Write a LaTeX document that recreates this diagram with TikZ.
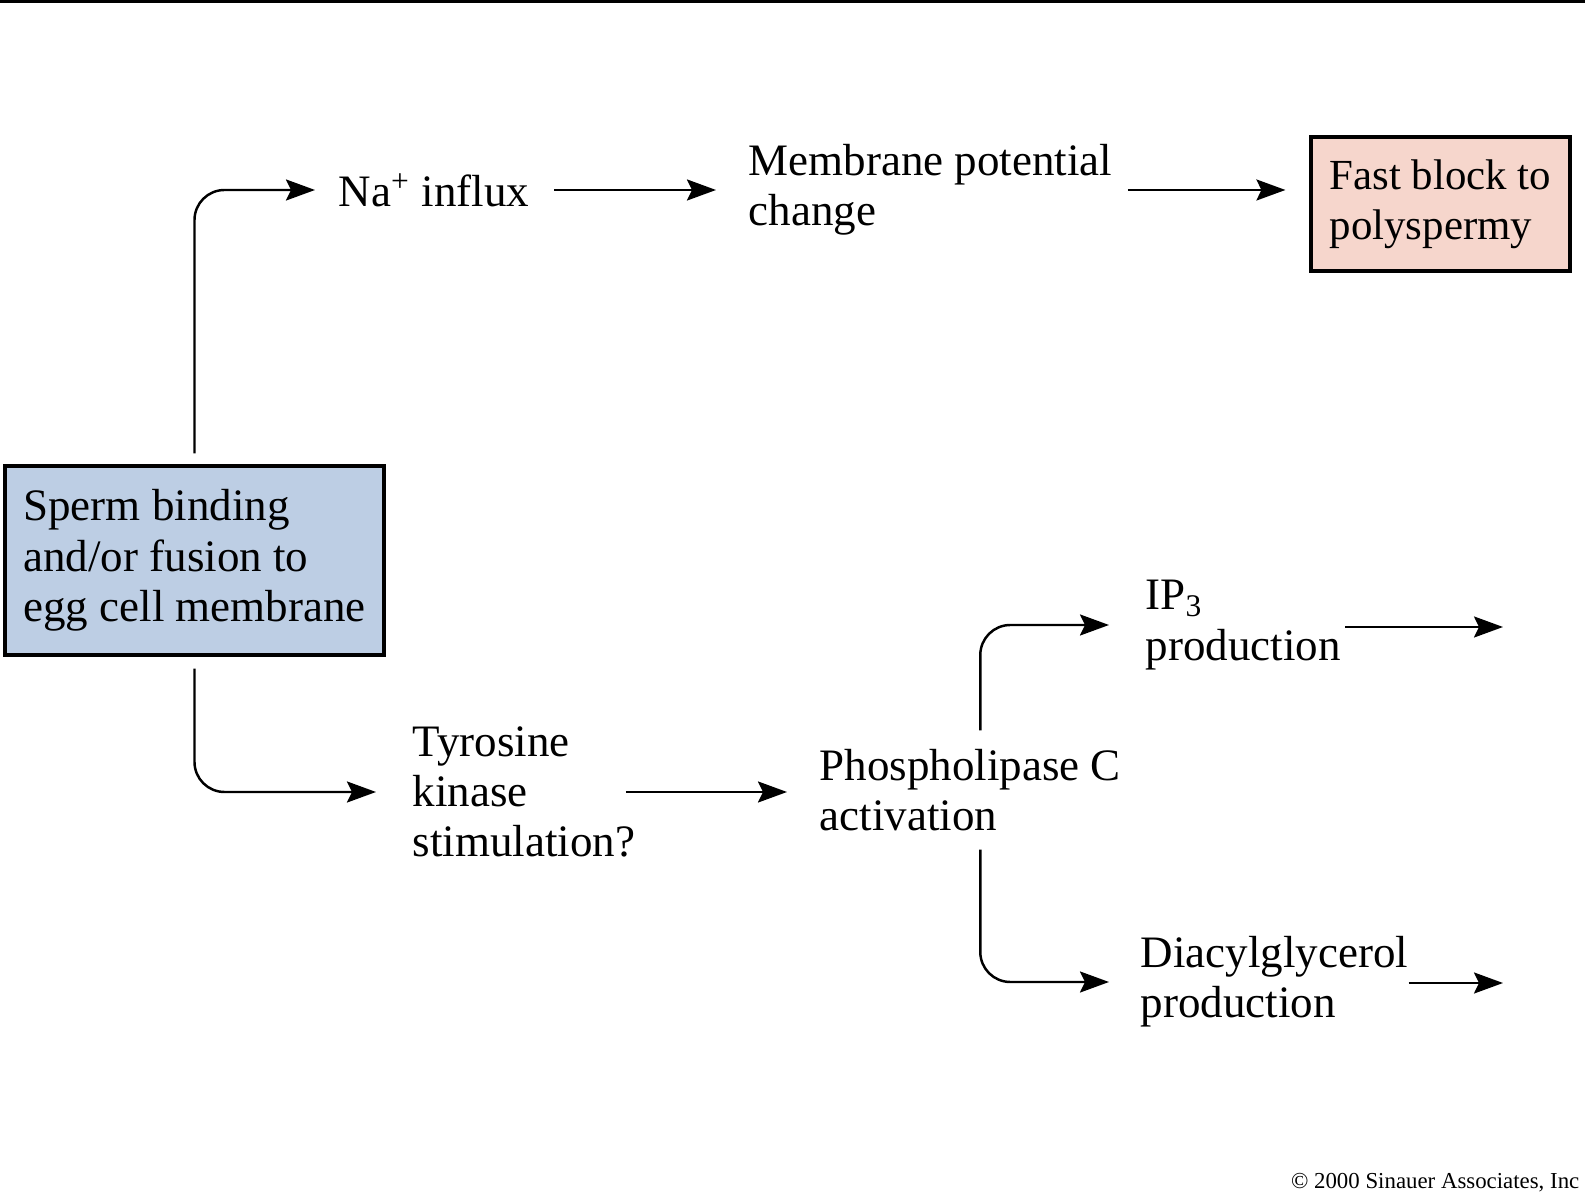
\documentclass[tikz,border=0pt]{standalone}
\usepackage{fontspec}
\setmainfont{Liberation Serif}
\usepackage{tikz}
\usetikzlibrary{calc, positioning}
\usetikzlibrary{arrows.meta}
\tikzset{>={Stealth[length=2.9mm,width=2.1mm,inset=0.5mm]}}
\usepackage{xcolor}
\definecolor{spermblue}{HTML}{BDCEE4}
\definecolor{blockpink}{HTML}{F6D6CC}

\begin{document}
\begin{tikzpicture}[
		stage/.style={anchor=west, align=left, inner sep=0pt, font=\fontsize{12.8}{14.3}\selectfont},
		box/.style={draw, line width=0.9pt, align=left, font=\fontsize{12.8}{14.3}\selectfont},
		flow/.style={->, line width=0.7pt, rounded corners=0.3cm}
	]
				\useasboundingbox (0,0) rectangle (15.85,-11.99);
				\fill (0,0) rectangle (15.85,-0.03);
				% boxes
				\node[box, fill=spermblue, minimum width=3.79cm, minimum height=1.89cm] (sperm) at (1.945,-5.605) {Sperm binding\\and/or fusion to\\egg cell membrane};
				\node[box, fill=blockpink, minimum width=2.59cm, minimum height=1.34cm, font=\fontsize{12.2}{14.3}\selectfont] (fast) at (14.405,-2.04) {Fast block to\\polyspermy};
				% stages
				\node[stage] (na) at (3.38,-1.90) {Na\textsuperscript{+} influx};
				\node[stage] (memb) at (7.48,-1.90) {Membrane potential\\change};
				\node[stage] (tyr) at (4.12,-7.92) {Tyrosine\\kinase\\stimulation?};
				\node[stage] (plc) at (8.19,-7.90) {Phospholipase C\\activation};
				\node[stage] (ip3) at (11.45,-6.25) {IP\textsubscript{3}\\production};
				\node[stage] (dag) at (11.40,-9.82) {Diacylglycerol\\production};
				\coordinate (ip3out) at (15.03,-6.27);
				\coordinate (dagout) at (15.03,-9.83);
				% arrows
				\draw[flow] ([yshift=1.1mm]sperm.north) |- ([xshift=-2.3mm]na.west);
				\draw[flow, shorten <=2.4mm, shorten >=3.2mm] (na.east) -- (memb.west);
				\draw[flow, shorten <=1.5mm, shorten >=2.4mm] (memb.east) -- (memb.east -| fast.west);
				\draw[flow] ([yshift=-1.2mm]sperm.south) |- ([xshift=-3.6mm]tyr.west);
				\draw[flow, shorten >=2.2mm] ([xshift=-1mm]tyr.east) -- ([xshift=-1mm]tyr.east -| plc.west);
				\draw[flow] ([xshift=1mm,yshift=1.8mm]plc.north) |- ([xshift=-3.6mm]ip3.west);
				\draw[flow] ([xshift=1mm,yshift=-1.8mm]plc.south) |- ([xshift=-3.1mm]dag.west);
				\draw[flow, shorten <=0.4mm] (ip3.east |- ip3out) -- (ip3out);
				\draw[flow] (dag.east |- dagout) -- (dagout);
				\node[anchor=east, inner sep=0pt, font=\fontsize{6.5}{7}\selectfont] (copy) at (15.80,-11.83) {\textcopyright{} 2000 Sinauer Associates, Inc};
			\end{tikzpicture}
\end{document}
